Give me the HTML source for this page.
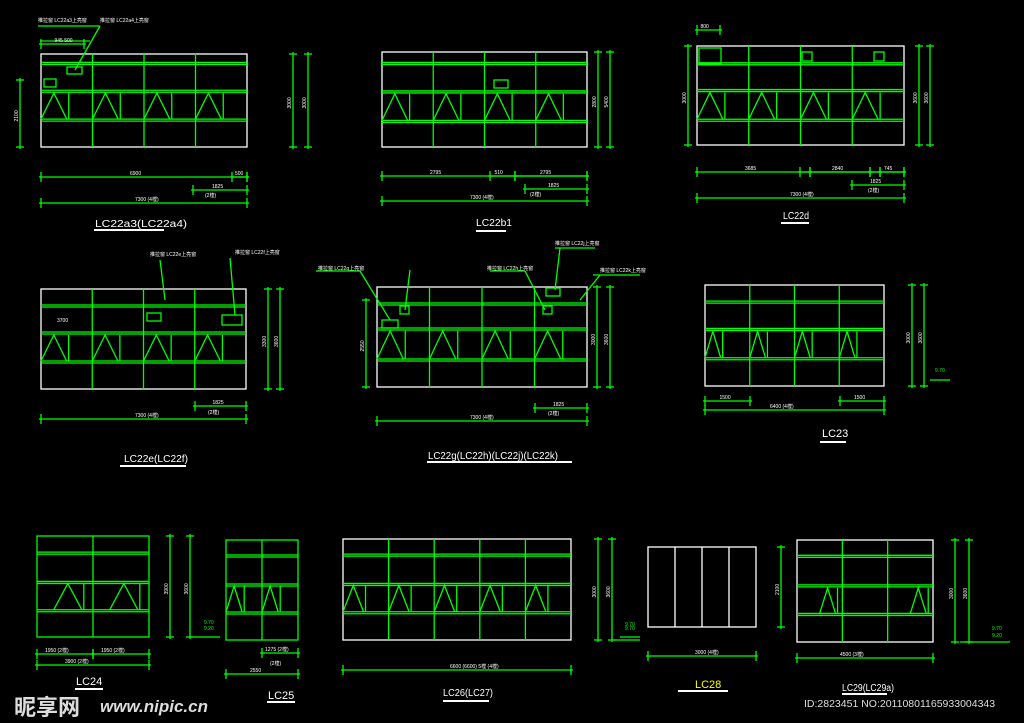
<!DOCTYPE html>
<html><head><meta charset="utf-8">
<style>
html,body{margin:0;padding:0;background:#000;width:1024px;height:723px;overflow:hidden}
svg{display:block}
text{font-family:"Liberation Sans","Noto Sans CJK SC",sans-serif}
</style></head>
<body>
<svg id="s" width="1024" height="723" viewBox="0 0 1024 723" xmlns="http://www.w3.org/2000/svg">
<rect width="1024" height="723" fill="#000"/>
<g id="g" stroke-width="1.3" fill="none"></g>
<g fill="#fff" font-size="10">
<text x="95" y="227" textLength="92" lengthAdjust="spacingAndGlyphs">LC22a3(LC22a4)</text>
<text x="476" y="226" textLength="36" lengthAdjust="spacingAndGlyphs">LC22b1</text>
<text x="783" y="219" textLength="26" lengthAdjust="spacingAndGlyphs">LC22d</text>
<text x="124" y="462" textLength="64" lengthAdjust="spacingAndGlyphs">LC22e(LC22f)</text>
<text x="428" y="459" textLength="130" lengthAdjust="spacingAndGlyphs">LC22g(LC22h)(LC22j)(LC22k)</text>
<text x="822" y="437" font-size="11">LC23</text>
<text x="76" y="685" font-size="11">LC24</text>
<text x="268" y="699" font-size="11">LC25</text>
<text x="443" y="696" textLength="50" lengthAdjust="spacingAndGlyphs">LC26(LC27)</text>
<text x="695" y="688" font-size="11" fill="#ff0">LC28</text>
<text x="842" y="691" textLength="52" lengthAdjust="spacingAndGlyphs">LC29(LC29a)</text>
<text x="804" y="707" font-size="10.5" fill="#ddd">ID:2823451 NO:20110801165933004343</text>
<text x="14" y="715" font-size="22" font-weight="bold" fill="#ddd">昵享网</text>
<text x="100" y="712" font-size="17" font-weight="bold" font-style="italic" fill="#ddd">www.nipic.cn</text>
</g>
</svg>
<script>
var g=document.getElementById('g'),NS='http://www.w3.org/2000/svg';
var G='#00ff00',W='#ffffff';
function el(t,a){var e=document.createElementNS(NS,t);for(var k in a)e.setAttribute(k,a[k]);g.appendChild(e);return e;}
function L(x1,y1,x2,y2,c){el('line',{x1:x1,y1:y1,x2:x2,y2:y2,stroke:c||G});}
function R(x,y,w,h,c){el('rect',{x:x,y:y,width:w,height:h,stroke:c||G});}
function T(x,y,s,c,rot,fs){var e=el('text',{x:x,y:y,fill:c||'#fff','font-size':fs||5,stroke:'none'});if(rot)e.setAttribute('transform','rotate(-90 '+x+' '+y+')');e.textContent=s;}
function win(o){
 var x=o.x,y=o.y,w=o.w,h=o.h,cw=w/o.cols;
 R(x,y,w,h,o.fc||W);
 for(var i=1;i<o.cols;i++){var vx=x+cw*i;L(vx,y,vx,y+h,o.vc||G);}
 (o.dl||[]).forEach(function(f){L(x,y+h*f,x+w,y+h*f);L(x,y+h*f+2,x+w,y+h*f+2);});
 if(o.tb){var t1=y+h*o.tb[0],t2=y+h*o.tb[1];
  L(x,t2,x+w,t2);L(x,t2+2,x+w,t2+2);
  for(var i=0;i<o.cols;i++){ if(o.tc&&o.tc.indexOf(i)<0)continue;
   var cx=x+cw*i+(o.off||0)*cw, tw=cw*(o.tw||0.48);
   el('polyline',{points:cx+','+t2+' '+(cx+tw/2)+','+t1+' '+(cx+tw)+','+t2,stroke:G});
   L(cx+tw+2,t1,cx+tw+2,t2);}
 }
}
function hd(x1,x2,y,s,tx){L(x1-2,y,x2+2,y);L(x1,y-5,x1,y+5);L(x2,y-5,x2,y+5);if(s)T(tx||(x1+x2)/2-8,y-2,s);}
function vd(x,y1,y2,s){L(x,y1-2,x,y2+2);L(x-4,y1,x+4,y1);L(x-4,y2,x+4,y2);if(s)T(x-2,(y1+y2)/2+8,s,'#fff',1);}
function ul(x,y,w){el('rect',{x:x,y:y,width:w,height:2,fill:'#fff',stroke:'none'});}
// Row 1
win({x:41,y:54,w:206,h:93,cols:4,dl:[0.09,0.39],tb:[0.42,0.70],tw:0.5});
R(44,79,12,8);R(67,67,15,7);
hd(41,247,177,'6900',130);hd(232,247,177,'500',235);hd(193,247,190,'1825');T(205,197,'(2樘)');hd(41,247,203,'7300 (4樘)',135);
vd(293,54,147,'3000');vd(308,54,147,'3000');vd(20,80,147,'2100');L(40,41,90,41);L(100,26,75,70);L(38,26,100,26);
T(38,22,'推拉窗 LC22a3上亮窗');T(100,22,'推拉窗 LC22a4上亮窗');hd(41,84,44,'945 500');
ul(94,229,70);
win({x:382,y:52,w:205,h:95,cols:4,dl:[0.11,0.41],tb:[0.44,0.72],tw:0.5});
R(494,80,14,8);
hd(382,587,176,'2795',430);hd(490,515,176,'510');hd(515,587,176,'2795',540);hd(525,587,189,'1825');T(530,196,'(2樘)');hd(382,587,201,'7300 (4樘)',470);
vd(610,52,147,'5400');vd(598,52,147,'2800');ul(476,230,30);
win({x:697,y:46,w:207,h:99,cols:4,dl:[0.17,0.44],tb:[0.47,0.74],tw:0.5});
R(699,48,22,16);R(802,52,10,9);R(874,52,10,9);
hd(697,904,172,'3685',745);hd(800,810,172);hd(810,870,172,'2840');hd(870,880,172);hd(880,904,172,'745');hd(852,904,185,'1825');T(868,192,'(2樘)');hd(697,904,198,'7300 (4樘)',790);
vd(688,46,145,'3000');vd(919,46,145,'3600');vd(930,46,145,'3600');hd(697,720,30,'800');ul(781,222,28);
// Row 2
win({x:41,y:289,w:205,h:100,cols:4,dl:[0.16,0.43],tb:[0.46,0.72],tw:0.5});
R(147,313,14,8);R(222,315,20,10);
T(57,322,'3700');hd(41,246,419,'7300 (4樘)',135);hd(195,246,406,'1825');T(208,414,'(2樘)');
vd(268,289,389,'3300');vd(280,289,389,'3600');L(165,300,160,260);L(235,315,230,258);T(150,256,'推拉窗 LC22e上亮窗');T(235,254,'推拉窗 LC22f上亮窗');ul(120,465,66);
win({x:377,y:287,w:210,h:100,cols:4,dl:[0.16,0.41],tb:[0.44,0.72],tw:0.5});
R(382,320,16,8);R(400,306,9,8);R(543,306,9,8);R(546,288,14,8);
hd(377,587,421,'7300 (4樘)',470);hd(535,587,408,'1825');T(548,415,'(2樘)');
vd(610,287,387,'3600');vd(597,287,387,'3000');vd(366,300,387,'2550');
T(318,270,'推拉窗 LC22g上亮窗');T(487,270,'推拉窗 LC22h上亮窗');T(555,245,'推拉窗 LC22j上亮窗');T(600,272,'推拉窗 LC22k上亮窗');
L(316,271,360,271);L(360,271,390,320);L(410,270,405,310);L(490,271,525,271);L(525,271,545,310);L(555,248,595,248);L(560,248,555,290);L(593,275,640,275);L(580,300,600,275);
ul(427,461,145);
win({x:705,y:285,w:179,h:101,cols:4,dl:[0.16,0.43],tb:[0.46,0.72],tw:0.35});
hd(705,750,401,'1500');hd(840,884,401,'1500');hd(705,884,410,'6400 (4樘)',770);
vd(912,285,386,'3000');vd(924,285,386,'3600');L(930,380,950,380);T(935,372,'9.70',G);
ul(820,441,26);
// Row 3
win({x:37,y:536,w:112,h:101,cols:2,fc:G,dl:[0.16,0.45],tb:[0.47,0.73],off:0.3,tw:0.5,tc:[0,1]});
hd(37,93,654,'1950 (2樘)',45);hd(93,149,654,'1950 (2樘)',101);hd(37,149,665,'3900 (2樘)',65);
vd(170,536,637,'3900');vd(190,536,637,'3600');L(193,637,220,637);T(204,624,'9.70',G);T(204,630,'9.20',G);ul(75,688,28);
win({x:226,y:540,w:72,h:100,cols:2,fc:G,dl:[0.15,0.44],tb:[0.46,0.72],tw:0.45});
hd(262,298,653,'1275 (2樘)',265);hd(226,298,674,'2550',250);T(270,665,'(2樘)');ul(267,701,28);
win({x:343,y:539,w:228,h:101,cols:5,dl:[0.15,0.44],tb:[0.46,0.72],tw:0.45});
hd(343,571,670,'6600 (6600) 5樘 (4樘)',450);vd(598,539,640,'3000');vd(612,539,640,'3600');L(615,640,640,640);T(625,630,'9.70',G);ul(443,700,46);
win({x:648,y:547,w:108,h:80,cols:4,vc:W});
hd(648,756,656,'3000 (4樘)',695);vd(781,547,627,'2100');L(620,637,640,637);T(625,626,'9.70',G);ul(678,690,50);
win({x:797,y:540,w:136,h:102,cols:3,dl:[0.15,0.44],tb:[0.47,0.72],off:0.5,tw:0.35,tc:[0,2]});
hd(797,933,658,'4500 (3樘)',840);vd(955,540,642,'3000');vd(969,540,642,'3600');L(960,642,1010,642);T(992,630,'9.70',G);T(992,637,'9.20',G);ul(842,693,45);
</script>
</body></html>
